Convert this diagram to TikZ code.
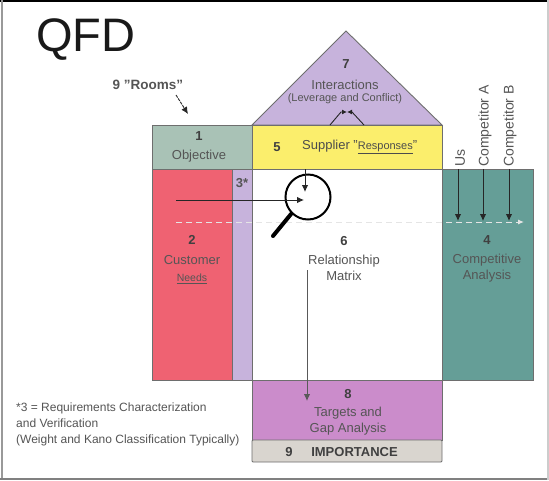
\documentclass[tikz,border=0pt]{standalone}
\usepackage{fontspec}
\setmainfont{Liberation Sans}
\usetikzlibrary{arrows.meta}
\definecolor{txtgray}{HTML}{555555}
\definecolor{edgegray}{HTML}{6E6E6E}
\definecolor{lav}{HTML}{C7B3DC}
\definecolor{sage}{HTML}{A9C2B6}
\definecolor{yel}{HTML}{FBEE6C}
\definecolor{redroom}{HTML}{EF6272}
\definecolor{tealroom}{HTML}{659E97}
\definecolor{orchid}{HTML}{CB8CCB}
\definecolor{stone}{HTML}{D9D5CF}
\newcommand{\sq}{\symbol{34}}
\tikzset{
  room/.style={draw=edgegray,line width=0.9pt},
  label/.style={text=txtgray,font=\fontsize{13}{16}\selectfont,align=center,inner sep=0pt},
  numlab/.style={text=black!75,font=\fontsize{13}{15}\selectfont\bfseries,inner sep=0pt},
  arr/.style={draw=black!85,line width=0.9pt,-{Latex[length=7pt,width=6.5pt]}},
  vlab/.style={text=txtgray,font=\fontsize{14}{16}\selectfont,rotate=90,anchor=west,inner sep=0pt},
}
\begin{document}
\begin{tikzpicture}[x=1pt,y=-1pt]
\useasboundingbox (0,0) rectangle (549,480);
\fill[white] (0,0) rectangle (549,480);
% picture frame
\draw[black,line width=2.5pt] (0,1) -- (549,1);
\draw[gray!80,line width=2pt] (1.5,0) -- (1.5,480);
\draw[gray,line width=2pt] (0,478.5) -- (549,478.5);
\draw[gray!40,line width=1.5pt] (548,0) -- (548,480);
% rooms
\draw[room,fill=lav] (252,125) -- (346,31) -- (442,125) -- cycle;
\draw[room,fill=sage] (152,125) rectangle (252,169);
\draw[room,fill=yel] (252,125) rectangle (442,169);
\draw[room,fill=redroom] (152,169) rectangle (232,380);
\draw[room,fill=lav] (232,169) rectangle (252,380);
\draw[room,fill=white] (252,169) rectangle (442,380);
\draw[room,fill=tealroom] (442,169) rectangle (533,380);
\draw[room,fill=orchid] (252,380) rectangle (442,440);
\draw[room,fill=stone,rounded corners=1pt] (252,440) rectangle (442,462);
% titles
\node[inner sep=0pt,font=\fontsize{47}{50}\selectfont,text=black!90] (title) at (86,40) {QFD};
\node[numlab,font=\fontsize{13.5}{15}\selectfont\bfseries,text=txtgray] (rooms) at (148,85) {9 \sq Rooms\sq};
% room labels
\node[numlab] (n7) at (346,64) {7};
\node[label] (t7) at (345,85) {Interactions};
\node[label,font=\fontsize{11}{13}\selectfont] (t7b) at (345,99) {(Leverage and Conflict)};
\node[numlab] (n1) at (199,136) {1};
\node[label] (t1) at (199,156) {Objective};
\node[numlab] (n5) at (277,147) {5};
\node[label,anchor=west,text=black!70] (t5) at (302,147) {Supplier \sq{\fontsize{11}{13}\selectfont\underline{Responses}}\sq};
\node[numlab,text=txtgray] (n3) at (242,183) {3*};
\node[numlab] (n2) at (192,240) {2};
\node[label] (t2) at (192,260) {Customer};
\node[label,font=\fontsize{10.5}{12}\selectfont] (t2b) at (192,279) {\underline{Needs}};
\node[numlab] (n6) at (344,241) {6};
\node[label] (t6) at (344,268) {Relationship\\Matrix};
\node[numlab] (n4) at (487,240) {4};
\node[label] (t4) at (487,268) {Competitive\\Analysis};
\node[numlab] (n8) at (348,394) {8};
\node[label] (t8) at (348,421) {Targets and\\Gap Analysis};
\node[numlab] (n9) at (289,452) {9};
\node[numlab] (t9) at (354.5,452) {IMPORTANCE};
\node[label,anchor=west,font=\fontsize{12}{16}\selectfont,align=left] (note) at (16,424) {*3 = Requirements Characterization\\and Verification\\(Weight and Kano Classification Typically)};
% competitor labels
\node[vlab] (us) at (460,167) {Us};
\node[vlab] (ca) at (485,167) {Competitor A};
\node[vlab] (cb) at (510,167) {Competitor B};
% anchors for connectors
\coordinate (a1) at (176,222);
\coordinate (a2) at (524,222);
\coordinate (hs) at (176,200);
\coordinate (he) at (304,200);
\coordinate (vs) at (305,169);
\coordinate (ve) at (305,192);
\coordinate (ds) at (307,270);
\coordinate (de) at (307,401);
\coordinate (ru) at (176,95);
\coordinate (re) at (188,114);
\coordinate (l1) at (330,125);
\coordinate (l2) at (341,112);
\coordinate (l3) at (364,125);
\coordinate (l4) at (352,112);
\coordinate (lm) at (347,112);
\coordinate (usE) at (458,221);
\coordinate (caE) at (483,221);
\coordinate (cbE) at (509,221);
\coordinate (usS) at (458,169);
\coordinate (caS) at (483,169);
\coordinate (cbS) at (509,169);
% dashed sweep
\draw[white!80!gray,line width=1pt,dash pattern=on 6pt off 4pt,-{Latex[length=6pt,width=5pt]}] (a1) -- (a2);
% competitor arrows
\draw[arr] (usS) -- (usE);
\draw[arr] (caS) -- (caE);
\draw[arr] (cbS) -- (cbE);
% magnifier
\node[draw=black,line width=2pt,circle,minimum size=45pt,inner sep=0pt,fill=none] (lens) at (308,197) {};
\coordinate (hnd) at (273,236);
\draw[black,line width=4pt,line cap=round] (lens.225) -- (hnd);
\draw[arr] (hs) -- (he);
\draw[arr] (vs) -- (ve);
\draw[arr,draw=black!65] (ds) -- (de);
\draw[arr,dash pattern=on 3pt off 1pt] (ru) -- (re);
% interaction peak
\draw[black!85,line width=0.9pt,-{Latex[length=5pt,width=5pt]}] (l1) -- (l2) -- (lm);
\draw[black!85,line width=0.9pt,-{Latex[length=5pt,width=5pt]}] (l3) -- (l4) -- (lm);
\end{tikzpicture}
\end{document}
